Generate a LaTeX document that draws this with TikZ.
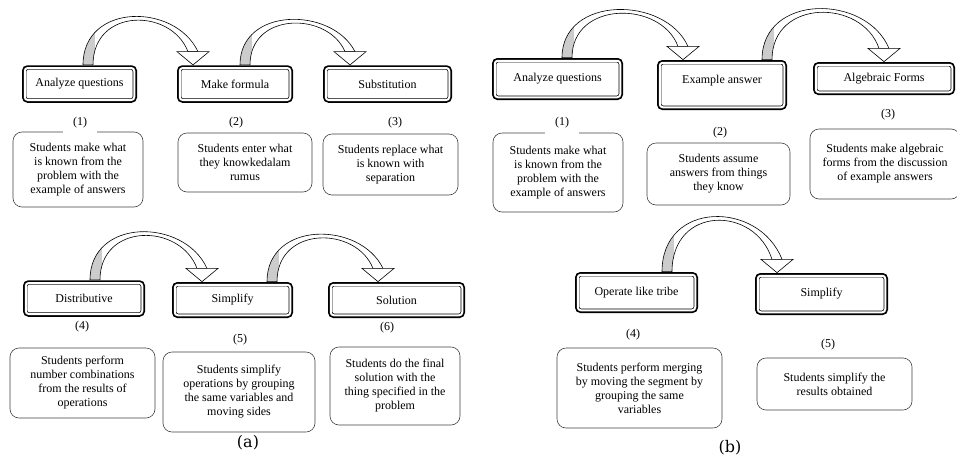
\documentclass[tikz,border=0pt]{standalone}
\usepackage{fontspec}
\setmainfont{Liberation Serif}
\newfontfamily\capfont{DejaVu Serif}
\usetikzlibrary{calc}

\tikzset{
  headbox/.style={draw, fill=white, rounded corners=3pt, line width=0.7pt,
    double=white, double distance=2pt,
    preaction={draw, line width=5.5pt, rounded corners=3pt},
    minimum height=32, font=\fontsize{12}{14}\selectfont},
  descbox/.style={draw=black!75, fill=white, rounded corners=9pt, line width=0.6pt,
    align=center, font=\fontsize{12}{14}\selectfont},
  numlabel/.style={font=\fontsize{12}{14}\selectfont},
  gaplabel/.style={numlabel, fill=white, minimum width=34, minimum height=22},
  legshade/.style={path picture={\fill[gray!40] (path picture bounding box.south west)
    rectangle ($(path picture bounding box.north west)+(12pt,0)$);}},
}

% curved block arrow: start, tip, height
\newcommand{\bentarrow}[3]{%
  \draw[line width=0.6pt, fill=white, legshade]
    let \p1=(#1), \p2=(#2) in
    (\x1-5pt,\y1+2.75pt) .. controls (\x1-5pt,\y1+1.3*#3pt) and (\x2-18pt,\y1+1.3*#3pt) .. (\x2+5pt,\y2+16pt)
    -- (\x2-5pt,\y2+16pt) .. controls (\x2-22pt,\y1+1.3*#3pt-5pt) and (\x1+5pt,\y1+1.3*#3pt-5pt) .. (\x1+5pt,\y1+2.75pt)
    -- cycle;
  \draw[line width=0.6pt, fill=white] let \p2=(#2) in
    (\x2-16pt,\y2+16pt) -- (\x2,\y2+2.75pt) -- (\x2+16pt,\y2+16pt) -- cycle;
}

\begin{document}
\begin{tikzpicture}[x=1pt, y=-1pt]
\useasboundingbox (0,0) rectangle (957,461);

% (a) top row
\node[headbox, minimum width=109.5] (aqa) at (79.5,84) {Analyze questions};
\node[headbox, minimum width=110.5] (mfa) at (235,84) {Make formula};
\node[headbox, minimum width=123.5] (sba) at (387.5,84) {Substitution};

\node[descbox, minimum width=130, minimum height=75] (da1) at (78,169.5) {Students make what\\is known from the\\problem with the\\example of answers};
\node[descbox, minimum width=134, minimum height=59] (da2) at (245,162.5) {Students enter what\\they knowkedalam\\rumus};
\node[descbox, minimum width=135, minimum height=61] (da3) at (390.5,164.5) {Students replace what\\is known with\\separation};

\node[gaplabel] (la1) at (80,123) {(1)};
\node[numlabel] (la2) at (236,123) {(2)};
\node[numlabel] (la3) at (395,123) {(3)};

% (a) bottom row
\node[headbox, minimum width=116.5, minimum height=31] (dsa) at (84,298.5) {Distributive};
\node[headbox, minimum width=115.5, minimum height=30.5] (sma) at (232.5,300) {Simplify};
\node[headbox, minimum width=131.5, minimum height=30.5] (sla) at (396.5,300) {Solution};

\node[descbox, minimum width=145, minimum height=70] (da4) at (82.5,383) {Students perform\\number combinations\\from the results of\\operations};
\node[descbox, minimum width=152, minimum height=80] (da5) at (239,392) {Students simplify\\operations by grouping\\the same variables and\\moving sides};
\node[descbox, minimum width=130, minimum height=78] (da6) at (395,386) {Students do the final\\solution with the\\thing specified in the\\problem};

\node[numlabel] (la4) at (82,327) {(4)};
\node[numlabel] (la5) at (240,340) {(5)};
\node[numlabel] (la6) at (387,328) {(6)};

\bentarrow{$(aqa.north)+(8.5,0)$}{$(mfa.north)+(-42,0)$}{50}
\bentarrow{$(mfa.north)+(10,0)$}{$(sba.north)+(-37.5,0)$}{47}
\bentarrow{$(dsa.north)+(11,0)$}{$(sma.north)+(-30.5,0)$}{50}
\bentarrow{$(sma.north)+(39.5,0)$}{$(sla.north)+(-18.5,0)$}{49}

% (b) top row
\node[headbox, minimum width=125.5, minimum height=36.5] (aqb) at (557.5,79) {Analyze questions};
\node[headbox, minimum width=124.5, minimum height=44.5, text depth=12pt] (eab) at (722,85) {Example answer};
\node[headbox, minimum width=136.5, minimum height=27.5] (afb) at (884,78.5) {Algebraic Forms};

\node[descbox, minimum width=130, minimum height=79] (db1) at (558,172.5) {Students make what\\is known from the\\problem with the\\example of answers};
\node[descbox, minimum width=143, minimum height=62] (db2) at (718.5,174) {Students assume\\answers from things\\they know};
\node[descbox, minimum width=150, minimum height=70] (db3) at (885,164) {Students make algebraic\\forms from the discussion\\of example answers};

\node[gaplabel] (lb1) at (562,123) {(1)};
\node[numlabel] (lb2) at (720,133) {(2)};
\node[numlabel] (lb3) at (888,115) {(3)};

% (b) bottom row
\node[headbox, minimum width=117.5, minimum height=35.5] (olb) at (636.5,292.5) {Operate like tribe};
\node[headbox, minimum width=127.5, minimum height=36.5] (smb) at (821.5,294) {Simplify};

\node[descbox, minimum width=165, minimum height=80] (db4) at (639.5,388) {Students perform merging\\by moving the segment by\\grouping the same\\variables};
\node[descbox, minimum width=155, minimum height=52] (db5) at (834.5,384) {Students simplify the\\results obtained};

\node[numlabel] (lb4) at (633,335) {(4)};
\node[numlabel] (lb5) at (828,345) {(5)};

\bentarrow{$(aqb.north)+(9.5,0)$}{$(eab.north)+(-39,0)$}{50}
\bentarrow{$(eab.north)+(45,0)$}{$(afb.north)+(0,0)$}{53}
\bentarrow{$(olb.north)+(30.5,0)$}{$(smb.north)+(-44.5,0)$}{57}

\node[font=\capfont\fontsize{16}{18}\selectfont] (capa) at (248,443) {(a)};
\node[font=\capfont\fontsize{16}{18}\selectfont] (capb) at (730,448) {(b)};
\end{tikzpicture}
\end{document}
